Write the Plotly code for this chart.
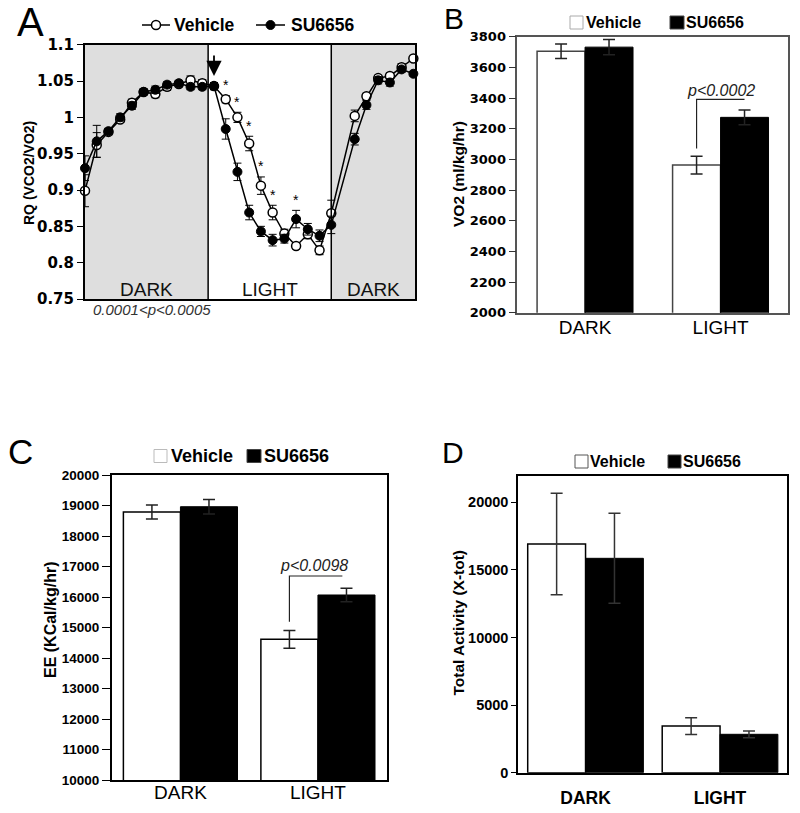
import plotly.graph_objects as go

# ---------------- Panel A data (RQ time course) ----------------
hours = [0, 1, 2, 3, 4, 5, 6, 7, 8, 9, 10, 11, 12, 13, 14, 15, 16, 17, 18, 19, 20, 21,
         23, 24, 25, 26, 27, 28]
rq_vehicle = [0.899, 0.962, 0.980, 0.997, 1.020, 1.035, 1.032, 1.042, 1.046, 1.051, 1.047,
              1.043, 1.025, 1.000, 0.964, 0.906, 0.869, 0.840, 0.823, 0.839, 0.817, 0.868,
              1.002, 1.029, 1.054, 1.057, 1.069, 1.081]
rq_vehicle_err = [0.022, 0.017, 0.004, 0.004, 0.005, 0.004, 0.005, 0.005, 0.004, 0.006, 0.005,
                  0.004, 0.005, 0.007, 0.010, 0.012, 0.010, 0.006, 0.004, 0.006, 0.006, 0.018,
                  0.008, 0.004, 0.004, 0.004, 0.005, 0.003]
rq_su = [0.930, 0.967, 0.981, 1.000, 1.016, 1.035, 1.038, 1.045, 1.047, 1.042, 1.042,
         1.043, 0.984, 0.925, 0.869, 0.843, 0.831, 0.833, 0.860, 0.846, 0.837, 0.852,
         0.970, 1.017, 1.051, 1.048, 1.066, 1.060]
rq_su_err = [0.017, 0.022, 0.004, 0.005, 0.005, 0.004, 0.005, 0.004, 0.004, 0.004, 0.004,
             0.005, 0.014, 0.012, 0.010, 0.007, 0.008, 0.006, 0.012, 0.008, 0.008, 0.012,
             0.008, 0.006, 0.005, 0.005, 0.004, 0.003]
star_hours = [12, 13, 14, 15, 16, 18]
star_series = ["Vehicle", "Vehicle", "Vehicle", "Vehicle", "Vehicle", "SU6656"]
arrow_hour = 11
phase_names = ["DARK", "LIGHT", "DARK"]
phase_bounds = [0, 10.5, 21, 28.14]
rq_ticks = [0.75, 0.8, 0.85, 0.9, 0.95, 1.0, 1.05, 1.1]
rq_ticktext = ["0.75", "0.8", "0.85", "0.9", "0.95", "1", "1.05", "1.1"]

# ---------------- Bar panels ----------------
categories = ["DARK", "LIGHT"]
vo2_vehicle = [3705, 2963]
vo2_vehicle_err = [47, 58]
vo2_su = [3732, 3274]
vo2_su_err = [50, 48]

ee_vehicle = [18790, 14612]
ee_vehicle_err = [230, 290]
ee_su = [18960, 16066]
ee_su_err = [240, 220]

act_vehicle = [16920, 3450]
act_vehicle_err = [3760, 620]
act_su = [15860, 2840]
act_su_err = [3330, 250]

W, H = 800, 813
def px(x):
    return x / W
def py(y):
    return 1 - y / H

ARIAL = "Liberation Sans, Arial"
DEJAVU = "DejaVu Sans"

fig = go.Figure()
shapes = []
ann = []

def pann(x, y, text, size, family=ARIAL, color="black", xanchor="center", angle=0):
    ann.append(dict(x=px(x), y=py(y), xref="paper", yref="paper", text=text, showarrow=False,
                    xanchor=xanchor, yanchor="middle", textangle=angle,
                    font=dict(family=family, size=size, color=color)))

# ---------- Panel A ----------
fig.add_trace(go.Scatter(
    x=hours, y=rq_vehicle, mode="lines+markers", name="Vehicle",
    line=dict(color="black", width=1.5),
    marker=dict(symbol="circle", size=9, color="white", line=dict(color="black", width=1.5)),
    error_y=dict(type="data", array=rq_vehicle_err, color="black", thickness=1, width=4),
    cliponaxis=False, xaxis="x", yaxis="y", showlegend=False))
fig.add_trace(go.Scatter(
    x=hours, y=rq_su, mode="lines+markers", name="SU6656",
    line=dict(color="black", width=1.5),
    marker=dict(symbol="circle", size=9, color="black", line=dict(color="black", width=1)),
    error_y=dict(type="data", array=rq_su_err, color="black", thickness=1, width=4),
    cliponaxis=False, xaxis="x", yaxis="y", showlegend=False))

# shaded dark phases and dividers
for i, name in enumerate(phase_names):
    x0, x1 = phase_bounds[i], phase_bounds[i + 1]
    if name == "DARK":
        shapes.append(dict(type="rect", xref="x", yref="y", x0=x0, x1=x1, y0=0.75, y1=1.1,
                           fillcolor="#dedede", line=dict(width=0), layer="below"))
    ann.append(dict(x=(x0 + x1) / 2, y=0.7625, xref="x", yref="y", text=name, showarrow=False,
                    xanchor="center", yanchor="middle",
                    font=dict(family=ARIAL, size=19, color="#111")))
for b in phase_bounds[1:-1]:
    shapes.append(dict(type="line", xref="x", yref="y", x0=b, x1=b, y0=0.75, y1=1.1,
                       line=dict(color="black", width=1.5)))

# asterisks
for h, s in zip(star_hours, star_series):
    k = hours.index(h)
    top = (rq_vehicle[k] + rq_vehicle_err[k]) if s == "Vehicle" else (rq_su[k] + rq_su_err[k])
    ann.append(dict(x=h, y=top + 0.001, xref="x", yref="y", text="*", showarrow=False,
                    xanchor="center", yanchor="bottom", font=dict(family=ARIAL, size=14, color="black")))

# arrow at light onset
ka = hours.index(arrow_hour)
ann.append(dict(x=arrow_hour, y=max(rq_vehicle[ka], rq_su[ka]) + 0.014, xref="x", yref="y",
                text="", showarrow=True, ax=0, ay=-22, arrowhead=2, arrowsize=1.7,
                arrowwidth=1.8, arrowcolor="black"))

pann(152, 310, "<i>0.0001&lt;p&lt;0.0005</i>", 15, color="#333")
pann(29, 173, "<b>RQ (VCO2/VO2)</b>", 14, angle=-90)
pann(30, 22, "A", 40)
# legend A
shapes.append(dict(type="line", xref="paper", yref="paper", x0=px(142), x1=px(170), y0=py(25), y1=py(25),
                   line=dict(color="black", width=1.5)))
shapes.append(dict(type="circle", xref="paper", yref="paper", x0=px(151.5), x1=px(160.5),
                   y0=py(29.5), y1=py(20.5), fillcolor="white", line=dict(color="black", width=1.5)))
pann(172, 25, "<b>Vehicle</b>", 17.5, xanchor="left")
shapes.append(dict(type="line", xref="paper", yref="paper", x0=px(256), x1=px(285), y0=py(25), y1=py(25),
                   line=dict(color="black", width=1.5)))
shapes.append(dict(type="circle", xref="paper", yref="paper", x0=px(266), x1=px(275),
                   y0=py(29.5), y1=py(20.5), fillcolor="black", line=dict(color="black", width=1)))
pann(289, 25, "<b>SU6656</b>", 17.5, xanchor="left")

# ---------- Bar panels ----------
cat_x = list(range(len(categories)))

def add_bars(axn, veh, veh_err, su, su_err, width, outline, errcol):
    xa = "x" + str(axn)
    ya = "y" + str(axn)
    fig.add_trace(go.Bar(x=cat_x, y=veh, width=width, offset=-width, name="Vehicle",
                         marker=dict(color="white", line=dict(color=outline, width=1.5)),
                         error_y=dict(type="data", array=veh_err, color=errcol, thickness=1.5, width=6),
                         xaxis=xa, yaxis=ya, showlegend=False))
    fig.add_trace(go.Bar(x=cat_x, y=su, width=width, offset=0, name="SU6656",
                         marker=dict(color="black", line=dict(color="black", width=1)),
                         error_y=dict(type="data", array=su_err, color=errcol, thickness=1.5, width=6),
                         xaxis=xa, yaxis=ya, showlegend=False))

w_b, w_c, w_d = 0.354, 0.415, 0.43
add_bars(2, vo2_vehicle, vo2_vehicle_err, vo2_su, vo2_su_err, w_b, "#444", "#222")
add_bars(3, ee_vehicle, ee_vehicle_err, ee_su, ee_su_err, w_c, "black", "#222")
add_bars(4, act_vehicle, act_vehicle_err, act_su, act_su_err, w_d, "black", "#333")

# bracket B
xl = cat_x[1] - w_b / 2
xr = cat_x[1] + w_b / 2
y_lo = vo2_vehicle[1] + vo2_vehicle_err[1] + 50
shapes.append(dict(type="path", xref="x2", yref="y2",
                   path=f"M {xl},{y_lo} L {xl},3391 L {xr},3391",
                   line=dict(color="#222", width=1.2)))
ann.append(dict(x=cat_x[1], y=3446, xref="x2", yref="y2", text="<i>p&lt;0.0002</i>", showarrow=False,
                xanchor="center", yanchor="middle", font=dict(family=ARIAL, size=16, color="#222")))
# bracket C
xl = cat_x[1] - w_c / 2
xr = cat_x[1] + w_c / 2 - 0.03
y_lo = ee_vehicle[1] + ee_vehicle_err[1] + 290
shapes.append(dict(type="path", xref="x3", yref="y3",
                   path=f"M {xl},{y_lo} L {xl},16689 L {xr},16689",
                   line=dict(color="#222", width=1.2)))
ann.append(dict(x=cat_x[1] - 0.03, y=17040, xref="x3", yref="y3", text="<i>p&lt;0.0098</i>",
                showarrow=False, xanchor="center", yanchor="middle",
                font=dict(family=ARIAL, size=16, color="#222")))

def legend_boxes(sq1, t1, sq2, t2, yc, size, outline1):
    shapes.append(dict(type="rect", xref="paper", yref="paper", x0=px(sq1[0]), x1=px(sq1[1]),
                       y0=py(yc + 6.5), y1=py(yc - 6.5), fillcolor="white",
                       line=dict(color=outline1, width=1)))
    pann(t1, yc, "<b>Vehicle</b>", size, xanchor="left")
    shapes.append(dict(type="rect", xref="paper", yref="paper", x0=px(sq2[0]), x1=px(sq2[1]),
                       y0=py(yc + 6.5), y1=py(yc - 6.5), fillcolor="black",
                       line=dict(color="#444", width=1)))
    pann(t2, yc, "<b>SU6656</b>", size, xanchor="left")

legend_boxes((570, 583), 584, (670, 684), 684, 22.5, 16, "#aaa")
legend_boxes((154, 167), 169, (247, 261), 262, 456, 18, "#bbb")
legend_boxes((575, 588), 588, (668, 681), 681, 461.5, 16, "#555")

pann(454, 18, "B", 30)
pann(20, 451, "C", 35)
pann(453, 452, "D", 30)
pann(458, 174, "<b>VO2 (ml/kg/hr)</b>", 15.5, angle=-90)
pann(50, 620, "<b>EE (KCal/kg/hr)</b>", 16, angle=-90)
pann(457.5, 623, "<b>Total Activity (X-tot)</b>", 15.5, angle=-90)

def dom(a, b):
    return [a / W, b / W]

def ydom(top, bottom):
    return [1 - bottom / H, 1 - top / H]

layout = dict(
    width=W, height=H, autosize=False, margin=dict(l=0, r=0, t=0, b=0, autoexpand=False),
    paper_bgcolor="white", plot_bgcolor="white", showlegend=False,
    xaxis=dict(domain=dom(85, 415), range=[phase_bounds[0], phase_bounds[-1]], showgrid=False,
               zeroline=False, showticklabels=False, ticks="", showline=True, mirror=True,
               linecolor="black", linewidth=2, anchor="y", automargin=False),
    yaxis=dict(domain=ydom(44.7, 299), range=[0.75, 1.1], tickvals=rq_ticks, ticktext=rq_ticktext,
               showgrid=False, zeroline=False, ticks="outside", ticklen=6, tickcolor="black",
               showline=True, mirror=True, linecolor="black", linewidth=2, anchor="x", automargin=False,
               tickfont=dict(family=DEJAVU, size=15, color="black", weight="bold")),
    xaxis2=dict(domain=dom(517.3, 788.3), range=[-0.5, 1.5], tickvals=cat_x, ticktext=categories,
                showgrid=False, zeroline=False, ticks="", ticklen=0, showline=True, mirror=True,
                linecolor="#555", linewidth=1.5, anchor="y2", ticklabelstandoff=-3, automargin=False,
                tickfont=dict(family=ARIAL, size=19, color="black")),
    yaxis2=dict(domain=ydom(36.7, 312.7), range=[2000, 3800], dtick=200, tickformat="d",
                showgrid=False, zeroline=False, ticks="outside", ticklen=7, tickcolor="#333",
                showline=True, mirror=True, linecolor="#555", linewidth=1.5, anchor="x2", automargin=False,
                tickfont=dict(family=DEJAVU, size=13, color="black", weight="bold")),
    xaxis3=dict(domain=dom(111.7, 386.7), range=[-0.5, 1.5], tickvals=cat_x, ticktext=categories,
                showgrid=False, zeroline=False, ticks="", ticklen=0, showline=True, mirror=True,
                linecolor="black", linewidth=1.5, anchor="y3", ticklabelstandoff=-6, automargin=False,
                tickfont=dict(family=ARIAL, size=19, color="black")),
    yaxis3=dict(domain=ydom(475, 780), range=[10000, 20000], dtick=1000, tickformat="d",
                showgrid=False, zeroline=False, ticks="outside", ticklen=8, tickcolor="black",
                showline=True, mirror=True, linecolor="black", linewidth=1.5, anchor="x3", automargin=False,
                tickfont=dict(family=ARIAL, size=13.5, color="black", weight="bold")),
    xaxis4=dict(domain=dom(518.3, 787.3), range=[-0.5, 1.5], tickvals=cat_x, ticktext=categories,
                showgrid=False, zeroline=False, ticks="", ticklen=0, showline=True, mirror=True,
                linecolor="black", linewidth=2, anchor="y4", ticklabelstandoff=8, automargin=False,
                tickfont=dict(family=ARIAL, size=17.5, color="black", weight="bold")),
    yaxis4=dict(domain=ydom(476, 772.7), range=[0, 21950], tickvals=[0, 5000, 10000, 15000, 20000],
                tickformat="d", showgrid=False, zeroline=False, ticks="outside", ticklen=5,
                tickcolor="black", showline=True, mirror=True, linecolor="black", linewidth=2,
                anchor="x4", automargin=False,
                tickfont=dict(family=ARIAL, size=14.5, color="black", weight="bold")),
    shapes=shapes, annotations=ann,
)
fig.update_layout(**layout)
fig.write_html("out.html", config={"displayModeBar": False},
               post_script="document.body.style.margin='0';document.body.style.padding='0';")
